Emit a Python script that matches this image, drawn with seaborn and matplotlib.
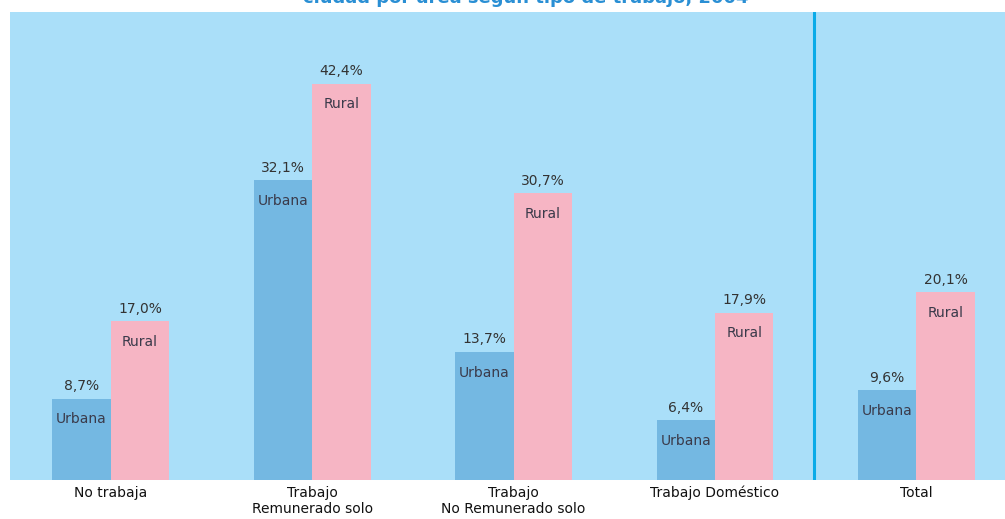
import numpy as np
import pandas as pd
import matplotlib
matplotlib.use('Agg')
import matplotlib.pyplot as plt
from matplotlib import font_manager
import seaborn as sns

# datos
categorias = ['No trabaja', 'Trabajo\nRemunerado solo', 'Trabajo\nNo Remunerado solo',
              'Trabajo Doméstico', 'Total']
urbana = [8.7, 32.1, 13.7, 6.4, 9.6]
rural = [17.0, 42.4, 30.7, 17.9, 20.1]
areas = ['Urbana', 'Rural']
colores = ['#74b8e2', '#f6b5c4']
titulo = 'ciudad por área según tipo de trabajo, 2004'

df = pd.DataFrame({
    'categoria': categorias * 2,
    'area': ['Urbana'] * len(categorias) + ['Rural'] * len(categorias),
    'valor': urbana + rural,
})

sns.set_style('white')
plt.rcParams['font.family'] = ['DejaVu Sans']

# fuente estrecha si existe
nombres = {f.name for f in font_manager.fontManager.ttflist}
angosta = 'Liberation Sans Narrow' if 'Liberation Sans Narrow' in nombres else 'DejaVu Sans'

fig = plt.figure(figsize=(10.05, 5.19), dpi=100)
ax = fig.add_axes([10 / 1005, 39 / 519, 995 / 1005, 468 / 519])
ax.set_facecolor('#aadff9')

sns.barplot(data=df, x='categoria', y='valor', hue='area', order=categorias,
            hue_order=areas, palette=colores, width=0.58, saturation=1,
            errorbar=None, legend=False, linewidth=0, ax=ax)

ax.set_ylim(0, 50.1)
ax.set_xlim(-0.5, 4.44)
for s in ax.spines.values():
    s.set_visible(False)
ax.set_yticks([])
ax.set_xlabel('')
ax.set_ylabel('')
ax.tick_params(axis='x', length=0, pad=4, labelsize=10, labelcolor='#111111')

# etiquetas de valor y de área
for cont, area in zip(ax.containers, areas):
    for bar in cont:
        h = bar.get_height()
        xc = bar.get_x() + bar.get_width() / 2
        ax.text(xc, h + 0.6, f'{h:.1f}%'.replace('.', ','), ha='center', va='bottom',
                fontsize=10, color='#333333')
        ax.text(xc, h - 2.2, area, ha='center', va='center',
                fontsize=11.5 if angosta != 'DejaVu Sans' else 10,
                color='#3a3a4a', family=[angosta, 'DejaVu Sans'])

# separador antes del Total
ax.axvline(3.49, color='#0aabe8', lw=2.2)

# título recortado arriba, como en el original
fig.text(0.523, 1 - 3 / 519, titulo, ha='center', va='baseline', fontsize=13,
         fontweight='bold', color='#2a8fd4')

fig.savefig('out.png', dpi=100)
